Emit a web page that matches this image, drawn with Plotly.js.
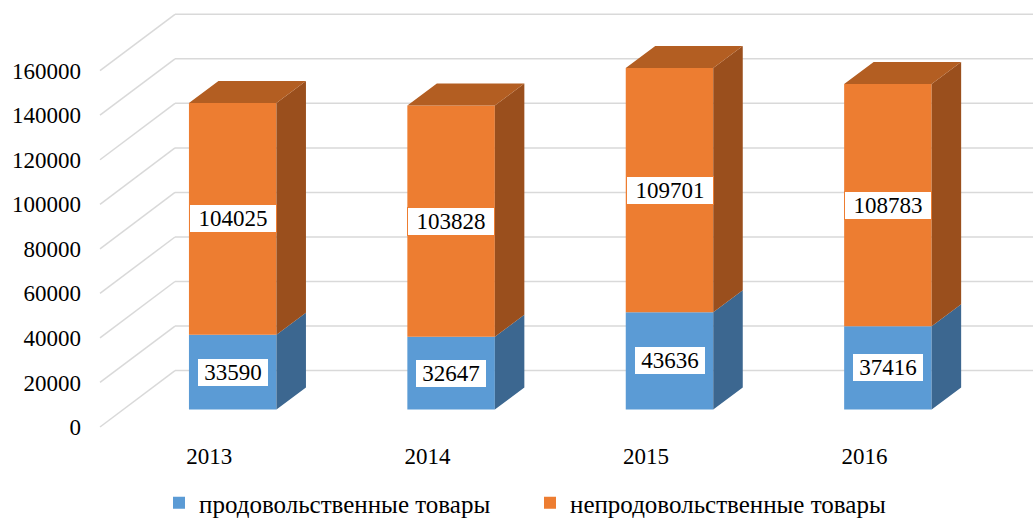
<!DOCTYPE html>
<html><head><meta charset="utf-8">
<script src="https://cdn.plot.ly/plotly-3.0.1.min.js"></script>
<style>html,body{margin:0;padding:0;background:#fff;} #chart{width:1033px;height:521px;}</style>
</head><body><div id="chart"></div>
<script>
// ---- data ----
const years = ['2013', '2014', '2015', '2016'];
const food = [33590, 32647, 43636, 37416];
const nonFood = [104025, 103828, 109701, 108783];
const seriesNames = ['продовольственные товары', 'непродовольственные товары'];
const yTickVals = [0, 20000, 40000, 60000, 80000, 100000, 120000, 140000, 160000];

// ---- geometry / style ----
const W = 1033, H = 521;
const SX = 218.4, SY = 0.002227;          // px per category step, px per value unit
const plotL = 92, plotB = 440;
const frontLeftPx = 100, zeroPx = 427;
const xmin = -0.5 - (frontLeftPx - plotL) / SX;
const xmax = xmin + (W - plotL) / SX;
const ymin = -(plotB - zeroPx) / SY;
const ymax = ymin + plotB / SY;
const wallDX = 75 / SX, wallDY = 56.4 / SY;
const shiftX = 23.5 / SX, shiftY = 17.5 / SY;
const depX = 29.5 / SX, depY = 22 / SY;
const barW = 87.5 / SX;
const serif = 'Liberation Serif';
const pal = [
  {front: '#5B9BD5', side: '#3C6790', top: '#4A80B2'},
  {front: '#ED7D31', side: '#9A4F1D', top: '#B35E22'}
];

const series = [food, nonFood];
const bases = [food.map(() => shiftY), food.map(v => v + shiftY)];

const traces = [];
// front faces (bars)
series.forEach((vals, s) => {
  traces.push({
    type: 'bar', name: seriesNames[s],
    x: years.map((_, i) => i + shiftX), y: vals, base: bases[s],
    width: barW, marker: {color: pal[s].front, line: {width: 0}},
    hoverinfo: 'skip'
  });
});
// side faces and top face
series.forEach((vals, s) => {
  const sx = [], sy = [], tx = [], ty = [];
  vals.forEach((v, i) => {
    const x0 = i + shiftX - barW / 2, x1 = i + shiftX + barW / 2;
    const b = bases[s][i], t = b + v;
    sx.push(x1, x1 + depX, x1 + depX, x1, x1, null);
    sy.push(b, b + depY, t + depY, t, b, null);
    tx.push(x0, x0 + depX, x1 + depX, x1, x0, null);
    ty.push(t, t + depY, t + depY, t, t, null);
  });
  traces.push({type: 'scatter', mode: 'lines', x: sx, y: sy, fill: 'toself',
    fillcolor: pal[s].side, line: {width: 0}, showlegend: false, hoverinfo: 'skip'});
  if (s === series.length - 1) {
    traces.push({type: 'scatter', mode: 'lines', x: tx, y: ty, fill: 'toself',
      fillcolor: pal[s].top, line: {width: 0}, showlegend: false, hoverinfo: 'skip'});
  }
});

// 3D grid lines (walls)
const shapes = [];
yTickVals.forEach(v => {
  const style = {color: '#D9D9D9', width: 1.5};
  shapes.push({type: 'line', xref: 'x', yref: 'y', layer: 'below', x0: -0.5, y0: v,
    x1: -0.5 + wallDX, y1: v + wallDY, line: style});
  shapes.push({type: 'line', xref: 'x', yref: 'y', layer: 'below', x0: -0.5 + wallDX, y0: v + wallDY,
    x1: xmax + 1, y1: v + wallDY, line: style});
});

// data labels
const annotations = [];
series.forEach((vals, s) => {
  vals.forEach((v, i) => {
    const txt = String(v);
    annotations.push({
      xref: 'x', yref: 'y', x: i + shiftX, y: bases[s][i] + v / 2,
      text: txt, showarrow: false, bgcolor: '#FFFFFF', bordercolor: pal[s].front,
      borderwidth: 1, borderpad: 1, width: txt.length * 16 - 12,
      font: {family: serif, size: 23, color: '#000'}
    });
  });
});

const layout = {
  width: W, height: H,
  margin: {l: plotL, r: 0, t: 0, b: H - plotB, autoexpand: false},
  paper_bgcolor: '#fff', plot_bgcolor: '#fff',
  barmode: 'overlay',
  xaxis: {range: [xmin, xmax], tickvals: years.map((_, i) => i), ticktext: years,
    showgrid: false, zeroline: false, showline: false, ticks: '',
    tickfont: {family: serif, size: 23, color: '#000'}, fixedrange: true},
  yaxis: {range: [ymin, ymax], tickvals: yTickVals, ticktext: yTickVals.map(String),
    showgrid: false, zeroline: false, showline: false, ticks: '', ticklabelstandoff: 10,
    tickfont: {family: serif, size: 23, color: '#000'}, fixedrange: true},
  showlegend: true,
  legend: {orientation: 'h', x: (159 - plotL) / (W - plotL), xanchor: 'left',
    y: -(480 - plotB) / plotB, yanchor: 'top', entrywidth: 326, entrywidthmode: 'pixels',
    font: {family: serif, size: 25, color: '#000'}, bgcolor: 'rgba(0,0,0,0)'},
  shapes: shapes,
  annotations: annotations
};

Plotly.newPlot('chart', traces, layout, {displayModeBar: false, staticPlot: true});
</script>
</body></html>
